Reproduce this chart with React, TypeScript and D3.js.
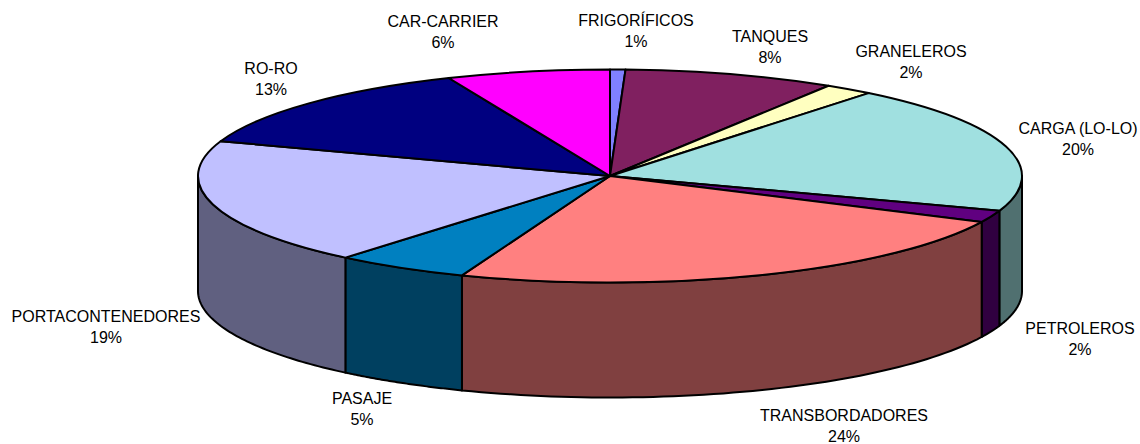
import * as d3 from "d3";

const categories = [
  "FRIGORÍFICOS",
  "TANQUES",
  "GRANELEROS",
  "CARGA (LO-LO)",
  "PETROLEROS",
  "TRANSBORDADORES",
  "PASAJE",
  "PORTACONTENEDORES",
  "RO-RO",
  "CAR-CARRIER",
];
// slice sizes, labels as printed on it
const values = [0.6, 8.3, 1.9, 19.5, 1.8, 23.75, 5.25, 19.2, 13.3, 6.4];
const percentLabels = ["1%", "8%", "2%", "20%", "2%", "24%", "5%", "19%", "13%", "6%"];
const colors = [
  "#8080ff",
  "#802060",
  "#ffffc0",
  "#a0e0e0",
  "#600080",
  "#ff8080",
  "#0080c0",
  "#c0c0ff",
  "#000080",
  "#ff00ff",
];

// label centres, the pie is tilted so they were placed by hand in the original
const labelX = [636, 770, 911, 1078, 1080, 844, 362, 106, 271, 443];
const labelY = [20, 36, 51, 128, 328, 415, 398, 316, 68, 21];

const width = 1140;
const height = 444;
const cx = 610;
const cy = 176;
const rx = 412;
const ry = 106.5;
const depth = 115;
const lineGap = 21;

const pie = d3
  .pie<number>()
  .sort(null)
  .value((d) => d);
const arcs = pie(values);

const arc = d3.arc<d3.PieArcDatum<number>>().innerRadius(0).outerRadius(rx);

// side wall of one slice, only the front half of the ellipse can be seen
const wall = d3
  .area<number>()
  .x((a) => cx + rx * Math.sin(a))
  .y0((a) => cy - ry * Math.cos(a))
  .y1((a) => cy - ry * Math.cos(a) + depth);

const wallPath = (start: number, end: number) => {
  const from = Math.max(start, Math.PI / 2);
  const to = Math.min(end, (Math.PI * 3) / 2);
  if (from >= to) return null;
  return wall(d3.range(0, 61).map((i) => from + ((to - from) * i) / 60));
};

const shade = (c: string) => {
  const rgb = d3.rgb(c);
  return d3.rgb(rgb.r * 0.5, rgb.g * 0.5, rgb.b * 0.5).formatHex();
};

const App = () => {
  return (
    <svg
      width={width}
      height={height}
      style={{ position: "absolute", left: 0, top: 0 }}
      fontFamily="'Liberation Sans', Arial, sans-serif"
      fontSize={16}
    >
      <g stroke="#000" strokeWidth={2} strokeLinejoin="round">
        {arcs.map((d, i) => {
          const p = wallPath(d.startAngle, d.endAngle);
          return p ? <path key={i} d={p} fill={shade(colors[i])} /> : null;
        })}
      </g>
      <g
        transform={`translate(${cx},${cy}) scale(1,${ry / rx})`}
        stroke="#000"
        strokeWidth={2}
        strokeLinejoin="round"
      >
        {arcs.map((d, i) => (
          <path
            key={i}
            d={arc(d) ?? undefined}
            fill={colors[i]}
            vectorEffect="non-scaling-stroke"
          />
        ))}
      </g>
      <g fill="#000" textAnchor="middle">
        {categories.map((c, i) => (
          <text key={c} x={labelX[i]} y={labelY[i]} dy="0.35em">
            <tspan x={labelX[i]}>{c}</tspan>
            <tspan x={labelX[i]} dy={lineGap}>
              {percentLabels[i]}
            </tspan>
          </text>
        ))}
      </g>
    </svg>
  );
};

export default App;
